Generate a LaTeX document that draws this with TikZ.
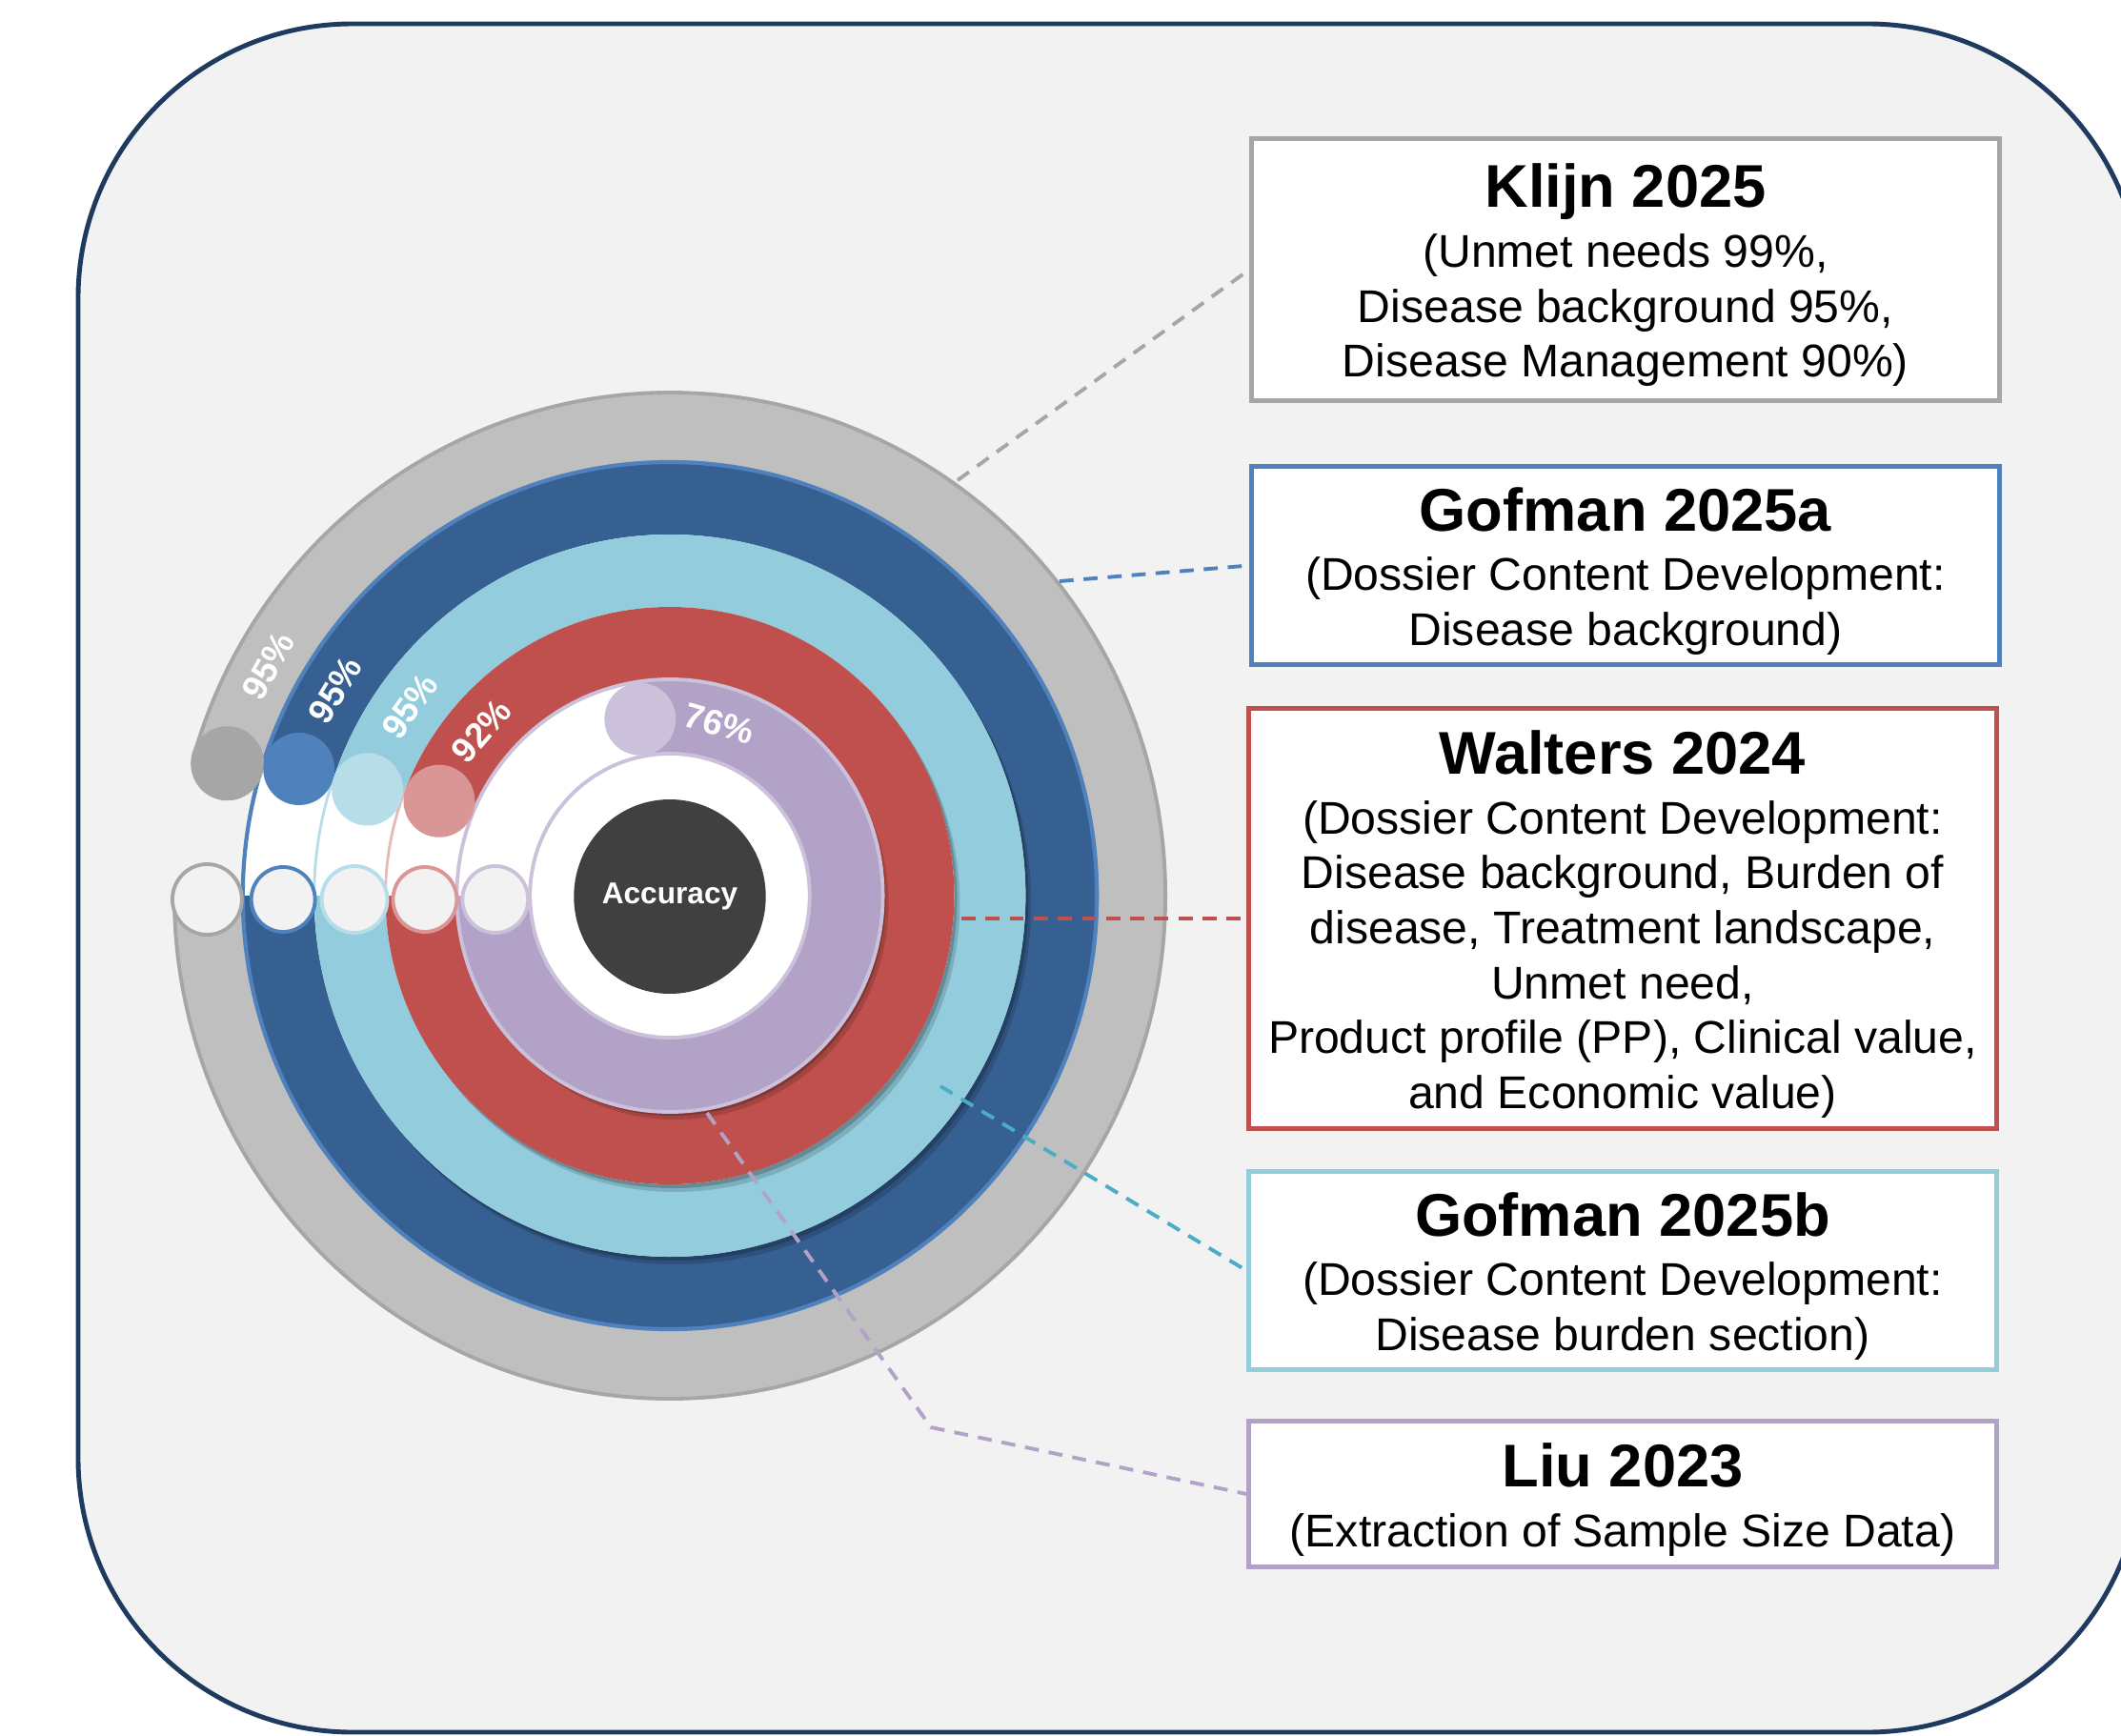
\documentclass[tikz,border=0pt]{standalone}
\usepackage{fontspec}
\setmainfont{Liberation Sans}
\usetikzlibrary{shapes.geometric}

\definecolor{framenavy}{HTML}{1F3A5F}
\definecolor{panelgray}{HTML}{F2F2F2}
\definecolor{ringgray}{HTML}{BFBFBF}
\definecolor{edgegray}{HTML}{A6A6A6}
\definecolor{ringblue}{HTML}{366092}
\definecolor{edgeblue}{HTML}{4F81BD}
\definecolor{ringsky}{HTML}{93CDDD}
\definecolor{capsky}{HTML}{B7DEE8}
\definecolor{linesky}{HTML}{4BACC6}
\definecolor{ringred}{HTML}{C0504D}
\definecolor{capred}{HTML}{D99694}
\definecolor{redrim}{HTML}{E6B9B8}
\definecolor{ringlilac}{HTML}{B3A2C7}
\definecolor{caplilac}{HTML}{CCC1DA}
\definecolor{coredark}{HTML}{404040}

\newcommand{\studytitle}[1]{{\rule{0pt}{16.4pt}\fontsize{18}{21}\selectfont\bfseries #1}}

\tikzset{
  studybox/.style={draw=#1, line width=1.3pt, fill=white, minimum width=7.85cm,
    align=center, inner sep=0pt, font=\fontsize{13.7}{16.4}\selectfont},
  leader/.style={draw=#1, line width=1.1pt, dash pattern=on 4.2pt off 3pt},
  pct/.style={text=white, inner sep=0pt, font=\fontsize{10.5}{12}\selectfont\bfseries},
  startdot/.style={draw=#1, line width=1.1pt, fill=panelgray},
}

\begin{document}
\begin{tikzpicture}
  % page and panel
  \fill[white] (-7.03,-8.81) rectangle (15.23,9.40);
  \useasboundingbox (-7.03,-8.81) rectangle (15.23,9.40);
  \begin{scope}
    \clip (-7.03,-8.81) rectangle (15.23,9.40);
    \draw[framenavy, line width=1.4pt, fill=panelgray, rounded corners=2.88cm] (-6.21,-8.78) rectangle (15.45,9.15);
  \end{scope}

  \begin{scope}[xscale=0.985]
  % outer grey band
  \filldraw[fill=ringgray, draw=edgegray, line width=1.1pt] (180:5.28) arc[start angle=180, end angle=523.6, radius=5.28]
    -- (163.6:4.55) arc[start angle=523.6, end angle=180, radius=4.55] -- cycle;

  % blue band on white base
  \fill[white] (0,0) circle (4.55);
  \fill[ringblue] (180:4.55) arc[start angle=180, end angle=521.4, radius=4.55]
    -- (161.4:3.79) arc[start angle=521.4, end angle=180, radius=3.79] -- cycle;
  \draw[edgeblue, line width=1.2pt] (0,0) circle (4.55);

  % inner bands, each with a soft shadow on the band outside it
  \foreach \R/\r/\e/\col in {3.79/3.03/520.9/ringsky, 3.03/2.27/518/ringred, 2.27/1.49/459.7/ringlilac}{
    \begin{scope}[even odd rule]
      \clip (0,0) circle[radius=\R+0.3] (0,0) circle[radius=\R];
      \fill[black, opacity=0.15, shift={(0.06,-0.08)}] (180:\R) arc[start angle=180, end angle=\e, radius=\R]
        -- (\e:\r) arc[start angle=\e, end angle=180, radius=\r] -- cycle;
      \fill[black, opacity=0.2, shift={(0.03,-0.04)}] (180:\R) arc[start angle=180, end angle=\e, radius=\R]
        -- (\e:\r) arc[start angle=\e, end angle=180, radius=\r] -- cycle;
    \end{scope}
    \fill[\col] (180:\R) arc[start angle=180, end angle=\e, radius=\R]
      -- (\e:\r) arc[start angle=\e, end angle=180, radius=\r] -- cycle;
  }
  \draw[capsky, line width=0.8pt] (160.9:3.79) arc[start angle=160.9, end angle=180, radius=3.79];
  \draw[redrim, line width=0.8pt] (158:3.03) arc[start angle=158, end angle=180, radius=3.03];
  \draw[caplilac, line width=1.1pt] (0,0) circle (2.27);
  \draw[caplilac, line width=1.1pt, fill=white] (0,0) circle (1.49);

  % end caps
  \fill[edgegray] (163.6:4.915) circle (0.39);
  \fill[edgeblue] (161.4:4.17) circle (0.38);
  \fill[capsky] (160.9:3.41) circle (0.38);
  \fill[capred] (158:2.65) circle (0.38);
  \fill[caplilac] (99.7:1.88) circle (0.38);

  % start marks
  \draw[startdot=edgegray] (-4.93,-0.04) circle (0.37);
  \draw[startdot=edgeblue] (-4.12,-0.04) circle (0.34);
  \draw[startdot=capsky] (-3.36,-0.04) circle (0.35);
  \draw[startdot=capred] (-2.61,-0.04) circle (0.34);
  \draw[startdot=caplilac] (-1.86,-0.04) circle (0.35);

  % percentages
  \node[pct, rotate=60.6] (pctklijn) at (150.6:4.915) {95\%};
  \node[pct, rotate=58.8] (pctgofmana) at (148.8:4.17) {95\%};
  \node[pct, rotate=54.3] (pctgofmanb) at (144.3:3.41) {95\%};
  \node[pct, rotate=49.2] (pctwalters) at (139.2:2.65) {92\%};
  \node[pct, rotate=-16.3] (pctliu) at (73.7:1.88) {76\%};
  \end{scope}

  \node[ellipse, fill=coredark, minimum width=1.97cm, minimum height=2.04cm, inner sep=0pt, text=white,
    font=\fontsize{9}{11}\selectfont\bfseries] (core) at (0,-0.01) {Accuracy};

  % study boxes
  \node[studybox=edgegray, minimum height=2.75cm] (klijn) at (10.03,6.57)
    {\studytitle{Klijn 2025}\\[1.5pt](Unmet needs 99\%,\\Disease background 95\%,\\Disease Management 90\%)};
  \node[studybox=edgeblue, minimum height=2.08cm] (gofmana) at (10.03,3.465)
    {\studytitle{Gofman 2025a}\\[1.5pt](Dossier Content Development:\\Disease background)};
  \node[studybox=ringred, minimum height=4.41cm] (walters) at (10.0,-0.24)
    {\studytitle{Walters 2024}\\[1.5pt](Dossier Content Development:\\Disease background, Burden of\\disease, Treatment landscape,\\Unmet need,\\Product profile (PP), Clinical value,\\and Economic value)};
  \node[studybox=ringsky, minimum height=2.08cm] (gofmanb) at (10.0,-3.935)
    {\studytitle{Gofman 2025b}\\[1.5pt](Dossier Content Development:\\Disease burden section)};
  \node[studybox=ringlilac, minimum height=1.53cm] (liu) at (10.0,-6.28)
    {\studytitle{Liu 2023}\\[1.5pt](Extraction of Sample Size Data)};

  % leaders
  \coordinate (klijnfoot) at (3.02,4.36);
  \coordinate (gofmanafoot) at (4.09,3.30);
  \coordinate (waltersfoot) at (3.06,-0.24);
  \coordinate (gofmanbfoot) at (2.84,-2.00);
  \coordinate (liufoot) at (0.39,-2.28);
  \coordinate (liubend) at (2.74,-5.58);
  \draw[leader=edgegray] (klijnfoot) -- (klijn.west);
  \draw[leader=edgeblue] (gofmanafoot) -- (gofmana.west);
  \draw[leader=ringred] (waltersfoot) -- (walters.west);
  \draw[leader=linesky] (gofmanbfoot) -- (gofmanb.west);
  \draw[leader=ringlilac] (liufoot) -- (liubend) -- (liu.west);
\end{tikzpicture}
\end{document}
